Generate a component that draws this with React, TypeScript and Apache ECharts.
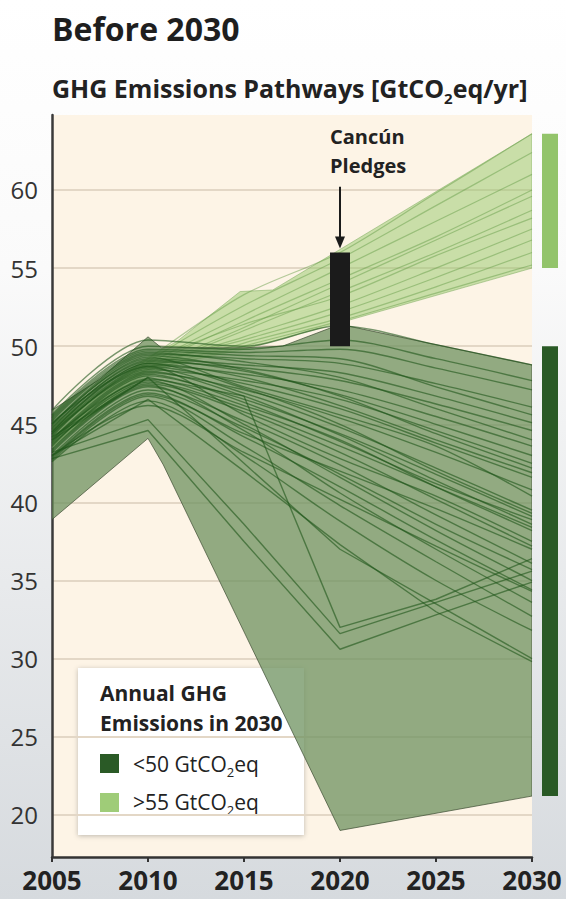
import React, { useEffect, useRef } from "react";
import * as echarts from "echarts";

// Years at which every pathway is sampled
const years = [2005, 2010, 2015, 2020, 2025, 2030];
const yTickValues = [20, 25, 30, 35, 40, 45, 50, 55, 60];

// Pathways with annual GHG emissions below 50 GtCO2eq in 2030 (smooth trajectories)
const lowPathwaysCurved: number[][] = [
  [45.9, 50.4, 50.0, 51.3, 50.1, 48.8],
  [45.6, 50.0, 49.8, 50.4, 49.2, 47.8],
  [45.5, 49.8, 49.6, 49.8, 48.6, 47.2],
  [45.2, 49.5, 49.2, 48.9, 47.6, 46.1],
  [45.4, 49.7, 49.4, 49.2, 47.4, 45.6],
  [45.0, 49.2, 48.8, 48.3, 46.8, 45.1],
  [44.8, 49.0, 48.6, 47.8, 46.3, 44.6],
  [45.3, 49.6, 49.0, 48.0, 46.0, 44.0],
  [44.5, 48.8, 48.2, 47.2, 45.5, 43.6],
  [44.7, 49.1, 48.4, 46.9, 45.0, 43.0],
  [44.3, 48.5, 47.8, 46.6, 44.6, 42.5],
  [45.0, 49.4, 48.5, 46.8, 44.4, 42.2],
  [44.6, 48.9, 48.0, 46.2, 44.0, 41.9],
  [45.1, 48.7, 47.6, 46.0, 43.8, 41.6],
  [44.0, 48.3, 47.2, 45.4, 43.2, 40.8],
  [44.9, 49.3, 47.4, 45.6, 43.6, 40.4],
  [44.2, 48.6, 47.0, 44.8, 42.2, 39.5],
  [44.5, 48.9, 47.3, 45.0, 42.0, 39.3],
  [43.8, 48.1, 46.6, 44.4, 41.8, 39.1],
  [43.9, 48.2, 46.4, 43.9, 41.2, 38.9],
  [44.4, 48.4, 46.8, 44.3, 41.4, 38.6],
  [43.7, 47.7, 46.0, 43.6, 41.0, 38.4],
  [43.6, 47.9, 46.2, 44.0, 41.0, 38.2],
  [44.4, 48.7, 45.6, 42.8, 40.4, 37.5],
  [43.4, 47.6, 45.8, 43.2, 40.2, 37.2],
  [42.8, 46.9, 44.4, 42.0, 39.6, 37.0],
  [43.2, 47.4, 45.2, 42.4, 39.2, 36.1],
  [43.0, 47.2, 44.8, 41.8, 38.6, 35.7],
  [44.1, 47.8, 45.0, 41.6, 38.2, 35.0],
  [42.9, 47.0, 44.2, 41.0, 37.6, 34.4],
  [43.0, 46.2, 43.2, 40.2, 37.2, 34.3],
  [43.3, 47.5, 44.6, 40.6, 37.0, 33.6],
  [42.7, 46.8, 43.6, 39.8, 36.2, 32.7],
  [42.6, 46.5, 43.0, 38.8, 35.0, 31.8],
];

// Pathways below 50 GtCO2eq with sharp reductions (straight segments)
const lowPathwaysSharp: number[][] = [
  [44.0, 48.0, 42.5, 37.0, 33.5, 30.0],
  [43.0, 46.6, 42.0, 37.3, 33.0, 29.8],
  [43.2, 45.3, 38.6, 31.6, 33.6, 35.6],
  [42.8, 44.6, 37.5, 30.6, 32.8, 34.9],
  [44.2, 48.0, 46.8, 32.0, 33.8, 36.4],
];

// Pathways with annual GHG emissions above 55 GtCO2eq in 2030
const highPathways: number[][] = [
  [44.8, 49.2, 53.3, 56.0, 59.8, 63.6],
  [44.5, 49.0, 52.6, 55.6, 59.0, 62.4],
  [44.2, 48.8, 52.0, 55.0, 58.0, 61.0],
  [44.0, 48.6, 51.6, 54.3, 57.0, 60.0],
  [43.8, 48.4, 51.2, 54.0, 56.8, 59.6],
  [43.6, 48.3, 51.0, 53.5, 56.0, 58.7],
  [44.6, 48.9, 51.4, 53.2, 55.8, 58.2],
  [43.9, 48.5, 50.6, 52.6, 55.0, 57.5],
  [44.1, 48.6, 50.4, 52.2, 54.4, 56.8],
  [43.5, 48.2, 50.2, 51.8, 53.8, 56.0],
  [43.7, 48.1, 50.0, 51.6, 53.4, 55.2],
];

// Envelopes of both pathway groups: [year, GtCO2eq/yr]
const lowEnvelope: number[][] = [
  [2005, 45.9], [2007.5, 47.9], [2010, 50.6], [2010.7, 49.9], [2015, 49.9],
  [2017, 50.0], [2020, 51.4], [2030, 48.8],
  [2030, 21.2], [2020, 19.0], [2010.8, 42.4], [2010, 44.1], [2005, 38.9],
];
const highEnvelope: number[][] = [
  [2005, 45.0], [2010, 49.3], [2011.5, 50.3], [2014.8, 53.5], [2016.5, 53.6],
  [2030, 63.6],
  [2030, 55.0], [2020, 51.5], [2015, 49.8], [2010, 48.5], [2005, 43.5],
];

// Cancún pledges range for 2020 and the 2030 ranges of both groups
const cancunYear = 2020;
const cancunRange = [50, 56];
const lowRange2030 = [21.2, 50];
const highRange2030 = [55, 63.6];

const FONT = "'Open Sans', 'Noto Sans', sans-serif";
const DARK = "#2a5a26";
const LIGHT = "#93c46b";

function polygonSeries(name: string, pts: number[][], fill: string, stroke: string, z: number) {
  return {
    type: "custom",
    name,
    z,
    silent: true,
    clip: true,
    coordinateSystem: "cartesian2d",
    data: [pts[0]],
    renderItem: (_params: any, api: any) => ({
      type: "polygon",
      shape: { points: pts.map((p) => api.coord(p)) },
      style: { fill, stroke, lineWidth: 1 },
    }),
  };
}

function lineSeries(vals: number[], color: string, width: number, smooth: number | boolean, z: number) {
  return {
    type: "line",
    z,
    silent: true,
    symbol: "none",
    smooth,
    data: years.map((y, i) => [y, vals[i]]),
    lineStyle: { color, width },
  };
}

function subscriptText(main: string, tail: string, size: number, subSize: number, drop: number, weight: string) {
  return {
    text: `{a|${main}}{s|2}{a|${tail}}`,
    verticalAlign: "middle",
    rich: {
      a: { fontFamily: FONT, fontWeight: weight, fontSize: size, fill: "#222", lineHeight: size + 6 },
      s: { fontFamily: FONT, fontWeight: weight, fontSize: subSize, fill: "#222", padding: [drop, 0, 0, 0] },
    },
  };
}

export default function App() {
  const ref = useRef<HTMLDivElement>(null);

  useEffect(() => {
    if (!ref.current) return;
    const chart = echarts.init(ref.current, undefined, { renderer: "svg" });

    const series: any[] = [];
    series.push(polygonSeries("high", highEnvelope, "rgba(150,200,105,0.5)", "rgba(120,170,90,0.5)", 1));
    highPathways.forEach((p) => series.push(lineSeries(p, "rgba(105,160,75,0.5)", 1.2, 0.3, 2)));
    series.push(polygonSeries("low", lowEnvelope, "rgba(110,145,95,0.75)", "rgba(60,75,50,0.7)", 3));
    lowPathwaysCurved.forEach((p) => series.push(lineSeries(p, "rgba(30,85,25,0.6)", 1.4, 0.3, 4)));
    lowPathwaysSharp.forEach((p) => series.push(lineSeries(p, "rgba(30,85,25,0.6)", 1.4, false, 4)));

    // Cancún pledges bar with its arrow and label
    series.push({
      type: "custom",
      z: 6,
      silent: true,
      clip: false,
      coordinateSystem: "cartesian2d",
      data: [[cancunYear, cancunRange[0], cancunRange[1]]],
      renderItem: (_params: any, api: any) => {
        const top = api.coord([api.value(0), api.value(2)]);
        const bot = api.coord([api.value(0), api.value(1)]);
        const x = top[0];
        const arrowStart = api.coord([cancunYear, 60.2]);
        const arrowTip = top[1] - 4;
        return {
          type: "group",
          children: [
            {
              type: "rect",
              shape: { x: x - 10, y: top[1], width: 20, height: bot[1] - top[1] },
              style: { fill: "#1b1b1b" },
            },
            {
              type: "line",
              shape: { x1: x, y1: arrowStart[1], x2: x, y2: arrowTip - 10 },
              style: { stroke: "#1b1b1b", lineWidth: 2 },
            },
            {
              type: "polygon",
              shape: { points: [[x - 5, arrowTip - 12], [x + 5, arrowTip - 12], [x, arrowTip]] },
              style: { fill: "#1b1b1b" },
            },
            {
              type: "text",
              style: {
                text: "Cancún\nPledges",
                x: x - 10,
                y: api.coord([cancunYear, 64.35])[1],
                verticalAlign: "top",
                align: "left",
                font: `bold 20px ${FONT}`,
                lineHeight: 29,
                fill: "#222",
              },
            },
          ],
        };
      },
    });

    // Ranges of 2030 emissions for both groups, right of the plot
    series.push({
      type: "custom",
      z: 6,
      silent: true,
      clip: false,
      coordinateSystem: "cartesian2d",
      data: [
        [2030, highRange2030[0], highRange2030[1], 0],
        [2030, lowRange2030[0], lowRange2030[1], 1],
      ],
      renderItem: (_params: any, api: any) => {
        const top = api.coord([api.value(0), api.value(2)]);
        const bot = api.coord([api.value(0), api.value(1)]);
        return {
          type: "rect",
          shape: { x: top[0] + 10, y: top[1], width: 16, height: bot[1] - top[1] },
          style: { fill: api.value(3) === 0 ? LIGHT : DARK },
        };
      },
    });

    const option: any = {
      animation: false,
      backgroundColor: {
        type: "linear",
        x: 0, y: 0, x2: 0, y2: 1,
        colorStops: [
          { offset: 0, color: "#ffffff" },
          { offset: 0.3, color: "#fafafa" },
          { offset: 1, color: "#d6dade" },
        ],
      },
      grid: {
        left: 52,
        right: 34,
        top: 115,
        bottom: 42,
        show: true,
        backgroundColor: "#fdf4e6",
        borderWidth: 0,
      },
      xAxis: {
        type: "value",
        min: 2005,
        max: 2030,
        interval: 5,
        splitLine: { show: false },
        axisLine: { show: true, lineStyle: { color: "#333", width: 2.5 } },
        axisTick: { show: true, length: 5, lineStyle: { color: "#333", width: 2 } },
        axisLabel: {
          fontFamily: FONT,
          fontSize: 26,
          fontWeight: "bold",
          color: "#222",
          margin: 10,
          showMinLabel: true,
          showMaxLabel: true,
          hideOverlap: false,
          formatter: (v: number) => String(v),
        },
      },
      yAxis: {
        type: "value",
        min: 17.3,
        max: 64.8,
        minInterval: 5,
        maxInterval: 5,
        axisLine: { show: true, lineStyle: { color: "#3a3a3a", width: 2.5 } },
        axisTick: { show: false },
        axisLabel: {
          fontFamily: FONT,
          fontSize: 24,
          color: "#333",
          margin: 14,
          formatter: (v: number) => (yTickValues.includes(Math.round(v * 10) / 10) ? String(v) : ""),
        },
        splitLine: {
          show: true,
          showMinLine: false,
          showMaxLine: false,
          lineStyle: { color: "#e3d7c6", width: 2 },
        },
      },
      graphic: [
        {
          type: "text",
          left: 52,
          top: 12,
          style: { text: "Before 2030", font: `bold 32px ${FONT}`, fill: "#1e1e1e" },
        },
        {
          type: "text",
          x: 52,
          y: 88,
          style: subscriptText("GHG Emissions Pathways [GtCO", "eq/yr]", 25, 15, 20, "bold"),
        },
        {
          type: "group",
          left: 78,
          top: 668,
          z: 100,
          children: [
            {
              type: "rect",
              shape: { x: 0, y: 0, width: 226, height: 167 },
              style: { fill: "#ffffff", shadowBlur: 5, shadowColor: "rgba(0,0,0,0.25)", shadowOffsetY: 1 },
            },
            {
              type: "text",
              x: 22,
              y: 10,
              style: {
                text: "Annual GHG\nEmissions in 2030",
                font: `bold 21px ${FONT}`,
                lineHeight: 30,
                verticalAlign: "top",
                fill: "#222",
              },
            },
            { type: "rect", shape: { x: 22, y: 86, width: 19, height: 19 }, style: { fill: DARK } },
            { type: "rect", shape: { x: 22, y: 125, width: 19, height: 19 }, style: { fill: "#9fcc78" } },
            {
              type: "text",
              x: 55,
              y: 96,
              style: subscriptText("<50 GtCO", "eq", 21, 13, 16, "normal"),
            },
            {
              type: "text",
              x: 55,
              y: 134,
              style: subscriptText(">55 GtCO", "eq", 21, 13, 16, "normal"),
            },
          ],
        },
      ],
      series,
    };

    chart.setOption(option);
    return () => chart.dispose();
  }, []);

  return (
    <div
      ref={ref}
      style={{ position: "fixed", left: 0, top: 0, width: 566, height: 899 }}
    />
  );
}
